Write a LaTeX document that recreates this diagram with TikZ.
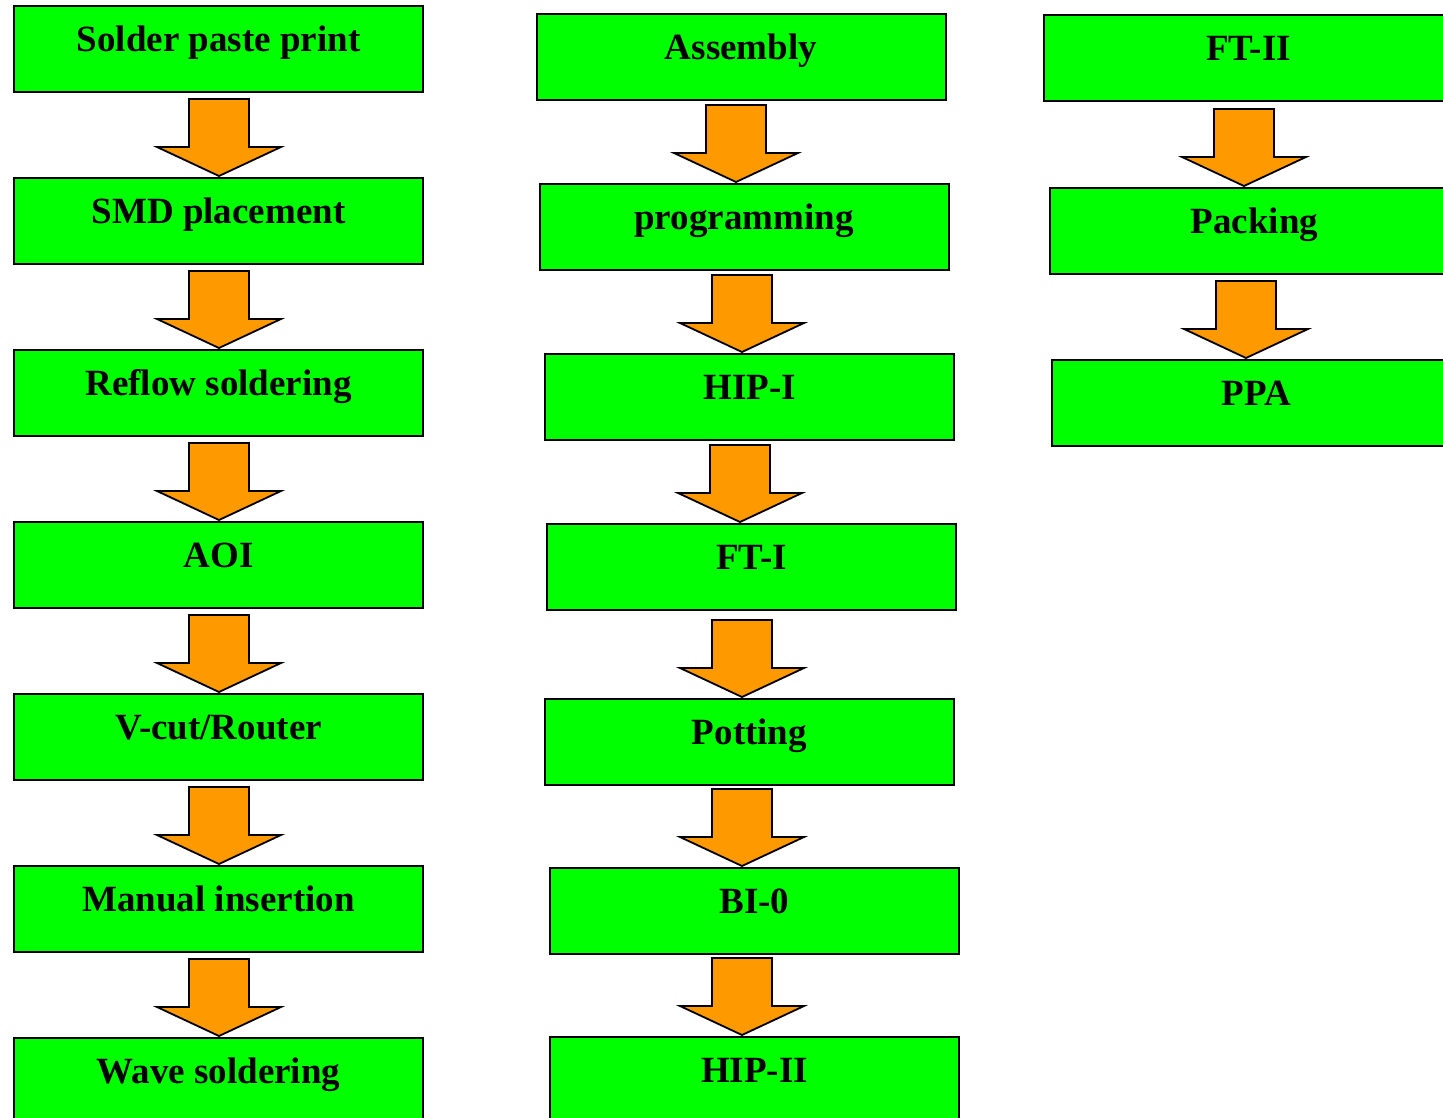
\documentclass[tikz,border=0pt]{standalone}
\usepackage{fontspec}
\setmainfont{Liberation Serif}
\usetikzlibrary{calc}
\definecolor{boxgreen}{RGB}{0,255,0}
\definecolor{arroworange}{RGB}{255,153,0}
\tikzset{
  stepbox/.style={draw=black, fill=boxgreen, line width=2pt, minimum width=409pt,
    inner xsep=0pt, inner ysep=0pt, outer sep=0pt, text height=45pt, text depth=41pt,
    anchor=north, font=\fontsize{37}{41}\selectfont\bfseries},
  blockarrow/.style={draw=black, fill=arroworange, line width=1.8pt, line join=miter}
}
% #1 from node, #2 to node, #3 x centre of the arrow
\newcommand\barrow[3]{%
  \draw[blockarrow] let \p1=(#1.south), \p2=(#2.north) in
    (#3pt-30pt,\y2+79pt) -- (#3pt+30pt,\y2+79pt) -- (#3pt+30pt,\y2+31pt)
    -- (#3pt+62pt,\y2+31pt) -- (#3pt,\y2+2pt) -- (#3pt-62pt,\y2+31pt)
    -- (#3pt-30pt,\y2+31pt) -- cycle;}
\begin{document}
\begin{tikzpicture}[x=1pt,y=-1pt]
\useasboundingbox (0,0) rectangle (1443,1117);
\clip (0,0) rectangle (1443,1117);
\fill[white] (0,0) rectangle (1443,1117);
% column 1
\node[stepbox] (a1) at (218.5,6)    {Solder paste print};
\node[stepbox] (a2) at (218.5,178)  {SMD placement};
\node[stepbox] (a3) at (218.5,350)  {Reflow soldering};
\node[stepbox] (a4) at (218.5,522)  {AOI};
\node[stepbox] (a5) at (218.5,694)  {V-cut/Router};
\node[stepbox] (a6) at (218.5,866)  {Manual insertion};
\node[stepbox] (a7) at (218.5,1038) {Wave soldering};
% column 2
\node[stepbox] (b1) at (741,14)     {Assembly};
\node[stepbox] (b2) at (744,184)    {programming};
\node[stepbox] (b3) at (749.5,354)  {HIP-I};
\node[stepbox] (b4) at (751.5,524)  {FT-I};
\node[stepbox] (b5) at (749.5,699)  {Potting};
\node[stepbox] (b6) at (754.5,868)  {BI-0};
\node[stepbox] (b7) at (754.5,1037) {HIP-II};
% column 3
\node[stepbox] (c1) at (1248.5,15)  {FT-II};
\node[stepbox] (c2) at (1254.5,188) {Packing};
\node[stepbox] (c3) at (1256.5,360) {PPA};
% arrows
\barrow{a1}{a2}{219}
\barrow{a2}{a3}{219}
\barrow{a3}{a4}{219}
\barrow{a4}{a5}{219}
\barrow{a5}{a6}{219}
\barrow{a6}{a7}{219}
\barrow{b1}{b2}{736}
\barrow{b2}{b3}{742}
\barrow{b3}{b4}{740}
\barrow{b4}{b5}{742}
\barrow{b5}{b6}{742}
\barrow{b6}{b7}{742}
\barrow{c1}{c2}{1244}
\barrow{c2}{c3}{1246}
\end{tikzpicture}
\end{document}
